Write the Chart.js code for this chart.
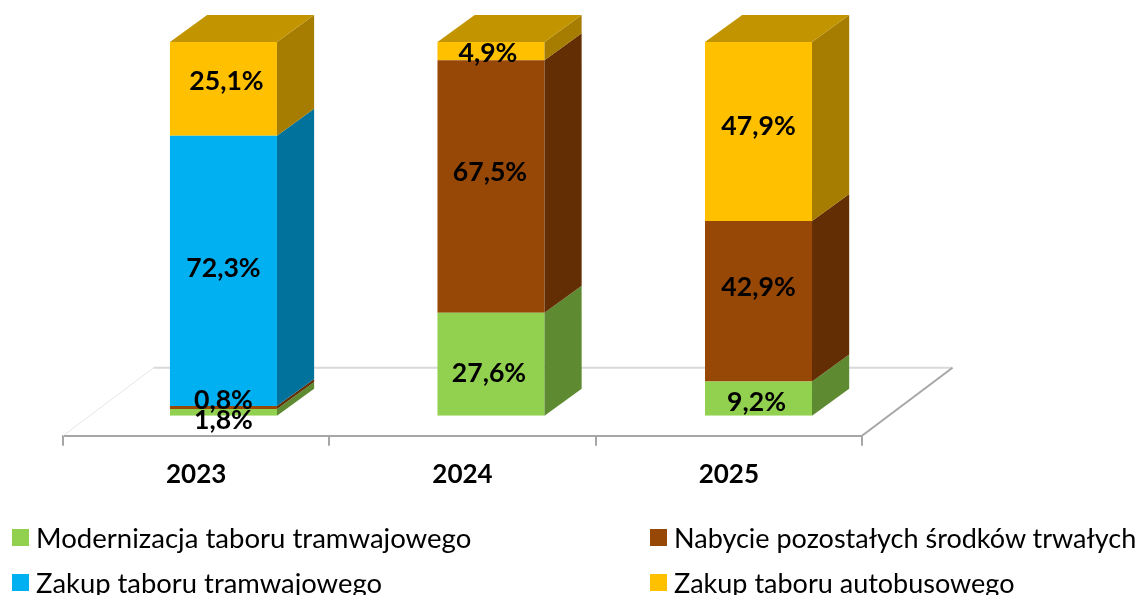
<!DOCTYPE html>
<html lang="pl">
<head>
<meta charset="utf-8">
<title>Struktura wydatków</title>
<script src="https://cdn.jsdelivr.net/npm/chart.js"></script>
<style>
  body { margin: 0; background: #fff; overflow: hidden; }
  #wrap { position: relative; width: 1138px; height: 595px; overflow: hidden; }
  .legend-item { position: absolute; font-family: Lato, sans-serif; color: #000; white-space: nowrap; line-height: 30px; }
  .legend-box { position: absolute; left: 0; top: 6px; width: 17px; height: 17px; }
  .legend-item span.txt { position: absolute; left: 24px; top: 0; }
</style>
</head>
<body>
<div id="wrap">
  <canvas id="myChart" width="1138" height="595"></canvas>
  <div id="legend"></div>
</div>
<script>
// Data
var years = ["2023", "2024", "2025"];
var seriesNames = ["Modernizacja taboru tramwajowego", "Nabycie pozostałych środków trwałych", "Zakup taboru tramwajowego", "Zakup taboru autobusowego"];
var modernizacja = [1.8, 27.6, 9.2];
var nabycie = [0.8, 67.5, 42.9];
var zakupTramwaje = [72.3, null, null];
var zakupAutobusy = [25.1, 4.9, 47.9];

var frontColors = ["#92D050", "#974706", "#00B0F0", "#FFC000"];
var sideColors = ["#5E8A32", "#632E03", "#00729C", "#A67D00"];
var topColor = "#C29500";

// bars sit this far from the front edge of the floor, and spread a bit wider than the ticks
var barShift = { x: 26.4, y: -20, scaleX: 1.0045 };
var depth = { x: 37, y: -27 };
var floorDepth = { x: 90.5, y: -68 };

// hand placed labels, same as in the original, [dataset][category] = [dx, dy]
var labelNudge = [
  [[0, 8], [-2, 9], [-2, 4]],
  [[0, -7], [-1, -14], [0, -14]],
  [[0, -2], [0, 0], [0, 0]],
  [[3, -7], [-3, 2], [0, -5]]
];

function labelText(v) {
  return v.toFixed(1).replace(".", ",") + "%";
}

// floor of the 3d chart
var floorPlugin = {
  id: "floor",
  beforeDatasetsDraw: function (chart) {
    var ctx = chart.ctx, a = chart.chartArea;
    var backY = a.bottom + floorDepth.y;
    ctx.save();
    ctx.lineWidth = 1;
    ctx.strokeStyle = "#E6E6E6";
    ctx.beginPath();
    ctx.moveTo(a.left, a.bottom);
    ctx.lineTo(a.left + floorDepth.x, backY);
    ctx.stroke();
    ctx.lineWidth = 2;
    ctx.strokeStyle = "#D9D9D9";
    ctx.beginPath();
    ctx.moveTo(a.left + floorDepth.x, backY);
    ctx.lineTo(a.right + floorDepth.x, backY);
    ctx.stroke();
    ctx.strokeStyle = "#A6A6A6";
    ctx.beginPath();
    ctx.moveTo(a.right, a.bottom);
    ctx.lineTo(a.right + floorDepth.x, backY);
    ctx.stroke();
    ctx.restore();
  }
};

function face(ctx, pts, color) {
  ctx.fillStyle = color;
  ctx.beginPath();
  ctx.moveTo(pts[0][0], pts[0][1]);
  for (var i = 1; i < pts.length; i++) ctx.lineTo(pts[i][0], pts[i][1]);
  ctx.closePath();
  ctx.fill();
}

// moves the flat bars up onto the floor, adds side and top faces and the labels
var bars3dPlugin = {
  id: "bars3d",
  beforeDatasetsDraw: function (chart) {
    chart.ctx.save();
    chart.ctx.translate(barShift.x, barShift.y);
    chart.ctx.scale(barShift.scaleX, 1);
  },
  afterDatasetsDraw: function (chart) {
    var ctx = chart.ctx;
    var tops = {};
    chart.data.datasets.forEach(function (ds, i) {
      chart.getDatasetMeta(i).data.forEach(function (bar, j) {
        if (ds.data[j] == null) return;
        var right = bar.x + bar.width / 2;
        face(ctx, [
          [right, bar.base],
          [right + depth.x, bar.base + depth.y],
          [right + depth.x, bar.y + depth.y],
          [right, bar.y]
        ], sideColors[i]);
        tops[j] = bar;
      });
    });
    Object.keys(tops).forEach(function (j) {
      var bar = tops[j];
      var left = bar.x - bar.width / 2, right = bar.x + bar.width / 2;
      face(ctx, [
        [left, bar.y],
        [left + depth.x, bar.y + depth.y],
        [right + depth.x, bar.y + depth.y],
        [right, bar.y]
      ], topColor);
    });
    ctx.fillStyle = "#000";
    ctx.font = "bold 26.5px Lato, sans-serif";
    ctx.textAlign = "center";
    ctx.textBaseline = "middle";
    chart.data.datasets.forEach(function (ds, i) {
      chart.getDatasetMeta(i).data.forEach(function (bar, j) {
        if (ds.data[j] == null) return;
        var n = labelNudge[i][j];
        ctx.fillText(labelText(ds.data[j]), bar.x + n[0], (bar.y + bar.base) / 2 + n[1]);
      });
    });
    ctx.restore();
  }
};

var seriesValues = [modernizacja, nabycie, zakupTramwaje, zakupAutobusy];

var chart = new Chart(document.getElementById("myChart").getContext("2d"), {
  type: "bar",
  data: {
    labels: years,
    datasets: seriesNames.map(function (name, i) {
      return { label: name, data: seriesValues[i], backgroundColor: frontColors[i], borderWidth: 0 };
    })
  },
  options: {
    responsive: false,
    animation: false,
    categoryPercentage: 1,
    barPercentage: 0.4,
    layout: { padding: { left: 63, right: 276, top: 62, bottom: 92 } },
    plugins: { legend: { display: false }, tooltip: { enabled: false } },
    scales: {
      x: {
        stacked: true,
        border: { color: "#A6A6A6", width: 2 },
        grid: { drawOnChartArea: false, color: "#A6A6A6", lineWidth: 2, tickLength: 10 },
        ticks: { color: "#000", font: { family: "Lato, sans-serif", size: 26, weight: "bold" }, padding: 13, maxRotation: 0 }
      },
      y: { stacked: true, display: false, min: 0, max: 100 }
    }
  },
  plugins: [floorPlugin, bars3dPlugin]
});

// legend, two columns like the original
var legendPos = [[12, 523], [650, 523], [12, 568], [650, 568]];
var legendFontSize = [27.55, 27, 27.4, 27];
var legend = document.getElementById("legend");
seriesNames.forEach(function (name, i) {
  var item = document.createElement("div");
  item.className = "legend-item";
  item.style.left = legendPos[i][0] + "px";
  item.style.top = legendPos[i][1] + "px";
  item.style.fontSize = legendFontSize[i] + "px";
  item.innerHTML = '<div class="legend-box" style="background:' + frontColors[i] + '"></div><span class="txt">' + name + '</span>';
  legend.appendChild(item);
});
</script>
</body>
</html>
